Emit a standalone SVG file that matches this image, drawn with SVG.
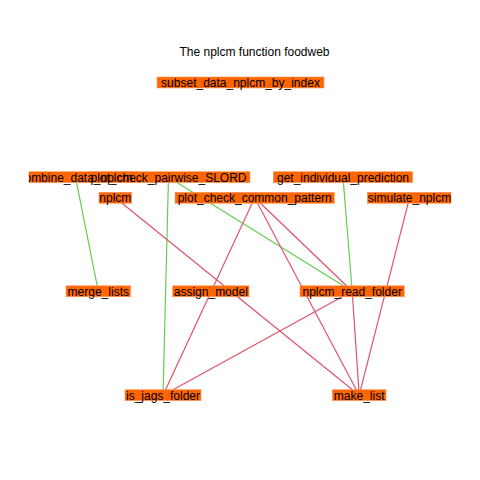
<svg xmlns="http://www.w3.org/2000/svg" width="480" height="480" viewBox="0 0 480 480">
<defs>
<clipPath id="plotclip"><rect x="28.8" y="0" width="422.4" height="480"/></clipPath>
</defs>
<style>
.box{fill:#FF6600;stroke:#FF9A66;stroke-width:0.6}
.lbl{font-family:"Liberation Sans",Arial,sans-serif;font-size:12px;fill:#000;text-anchor:middle}
.g{stroke:#61D04F;stroke-width:1.2;fill:none}
.r{stroke:#DF536B;stroke-width:1.2;fill:none}
</style>
<rect width="480" height="480" fill="#fff"/>
<text x="254.5" y="56" class="lbl">The nplcm function foodweb</text>
<g id="connectors" clip-path="url(#plotclip)">
<line class="g" x1="75.5" y1="177.2" x2="98.3" y2="291.3"/>
<line class="g" x1="168.5" y1="177.2" x2="163" y2="395.2"/>
<line class="g" x1="168.5" y1="177.2" x2="352.2" y2="291.3"/>
<line class="g" x1="343" y1="177.2" x2="352.2" y2="291.3"/>
<line class="r" x1="115.3" y1="197.8" x2="359.2" y2="395.2"/>
<line class="r" x1="254.7" y1="197.8" x2="163" y2="395.2"/>
<line class="r" x1="254.7" y1="197.8" x2="352.2" y2="291.3"/>
<line class="r" x1="254.7" y1="197.8" x2="359.2" y2="395.2"/>
<line class="r" x1="352.2" y1="291.3" x2="163" y2="395.2"/>
<line class="r" x1="352.2" y1="291.3" x2="359.2" y2="395.2"/>
<line class="r" x1="409.5" y1="197.8" x2="359.2" y2="395.2"/>
</g>
<g clip-path="url(#plotclip)">
<g id="subset_data_nplcm_by_index"><rect class="box" x="157" y="77" width="167" height="11"/></g>
<g id="combine_data_nplcm"><rect class="box" x="17" y="171.7" width="117" height="11"/></g>
<g id="plot_check_pairwise_SLORD"><rect class="box" x="88" y="171.7" width="162" height="11"/></g>
<g id="get_individual_prediction"><rect class="box" x="273.3" y="171.7" width="139.4" height="11"/></g>
<g id="nplcm"><rect class="box" x="99" y="192.3" width="32.7" height="11"/></g>
<g id="plot_check_common_pattern"><rect class="box" x="175" y="192.3" width="159.3" height="11"/></g>
<g id="simulate_nplcm"><rect class="box" x="367.3" y="192.3" width="86" height="11"/></g>
<g id="merge_lists"><rect class="box" x="66" y="285.8" width="64.7" height="11"/></g>
<g id="assign_model"><rect class="box" x="172.7" y="285.8" width="76.3" height="11"/></g>
<g id="nplcm_read_folder"><rect class="box" x="300" y="285.8" width="104.3" height="11"/></g>
<g id="is_jags_folder"><rect class="box" x="125" y="389.7" width="76" height="11"/></g>
<g id="make_list"><rect class="box" x="332.3" y="389.7" width="53.7" height="11"/></g>
<text class="lbl" x="240.5" y="86.8">subset_data_nplcm_by_index</text>
<text class="lbl" x="75.5" y="181.5">combine_data_nplcm</text>
<text class="lbl" x="168.5" y="181.5">plot_check_pairwise_SLORD</text>
<text class="lbl" x="343" y="181.5">get_individual_prediction</text>
<text class="lbl" x="115.3" y="202.1">nplcm</text>
<text class="lbl" x="254.7" y="202.1">plot_check_common_pattern</text>
<text class="lbl" x="409.5" y="202.1">simulate_nplcm</text>
<text class="lbl" x="98.3" y="295.6">merge_lists</text>
<text class="lbl" x="210.8" y="295.6">assign_model</text>
<text class="lbl" x="352.2" y="295.6">nplcm_read_folder</text>
<text class="lbl" x="163" y="399.5">is_jags_folder</text>
<text class="lbl" x="359.2" y="399.5">make_list</text>
</g>
</svg>
